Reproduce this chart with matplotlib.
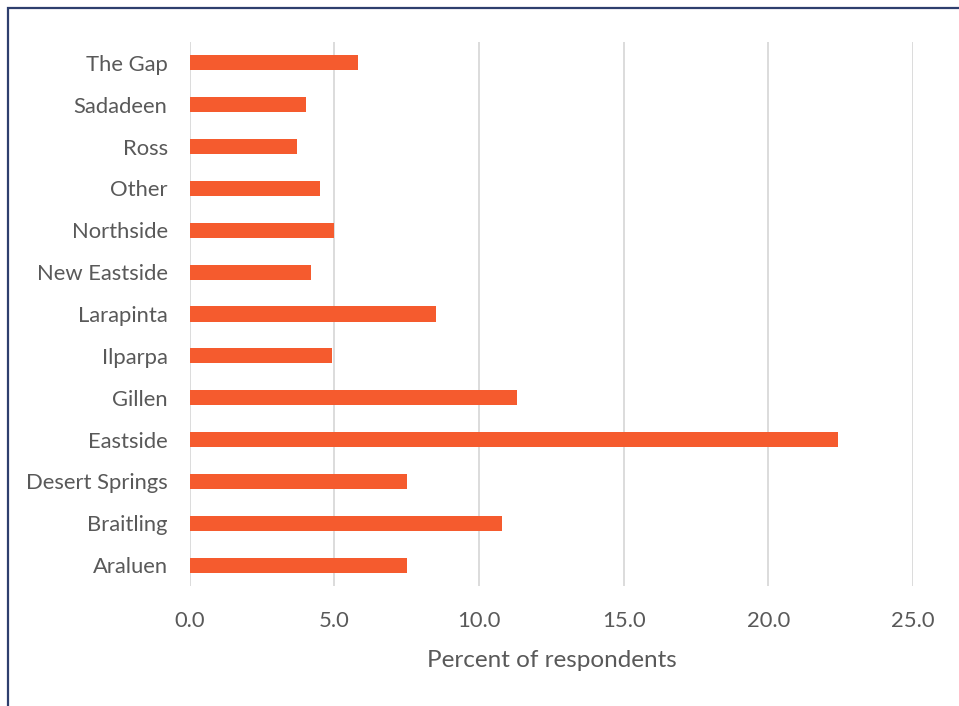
import matplotlib.pyplot as plt
from matplotlib.patches import Rectangle

# Suburbs listed bottom to top, as in the chart
suburbs = ['Araluen', 'Braitling', 'Desert Springs', 'Eastside', 'Gillen',
           'Ilparpa', 'Larapinta', 'New Eastside', 'Northside', 'Other',
           'Ross', 'Sadadeen', 'The Gap']
percent = [7.5, 10.8, 7.5, 22.4, 11.3, 4.9, 8.5, 4.2, 5.0, 4.5, 3.7, 4.0, 5.8]

ticks = [0, 5, 10, 15, 20, 25]
tick_labels = ['0.0', '5.0', '10.0', '15.0', '20.0', '25.0']

plt.rcParams['font.family'] = ['Lato', 'DejaVu Sans']

fig = plt.figure(figsize=(9.59, 7.06), dpi=100)
ax = fig.add_axes([0.198, 0.170, 0.754, 0.7705])

ax.barh(suburbs, percent, height=0.36, color='#F55B2E', zorder=3)

ax.set_xlim(0, 25)
ax.set_ylim(-0.5, len(suburbs) - 0.5)
ax.set_xticks(ticks)
ax.set_xticklabels(tick_labels)
ax.grid(axis='x', color='#D9D9D9', linewidth=1.3, zorder=0)
ax.set_axisbelow(True)
for s in ax.spines.values():
    s.set_visible(False)
ax.tick_params(length=0, labelsize=15.8, colors='#595959')
ax.tick_params(axis='x', pad=18)
ax.tick_params(axis='y', pad=16)
ax.set_xlabel('Percent of respondents', fontsize=17.5, color='#595959', labelpad=14)

# chart frame (right and bottom edges fall outside the image)
fig.patches.append(Rectangle((8 / 959, -0.1), 1.2, 1 - 8 / 706 + 0.1,
                             transform=fig.transFigure, fill=False,
                             edgecolor='#2E3F6E', linewidth=1.6))

fig.savefig('out.png', dpi=100)
